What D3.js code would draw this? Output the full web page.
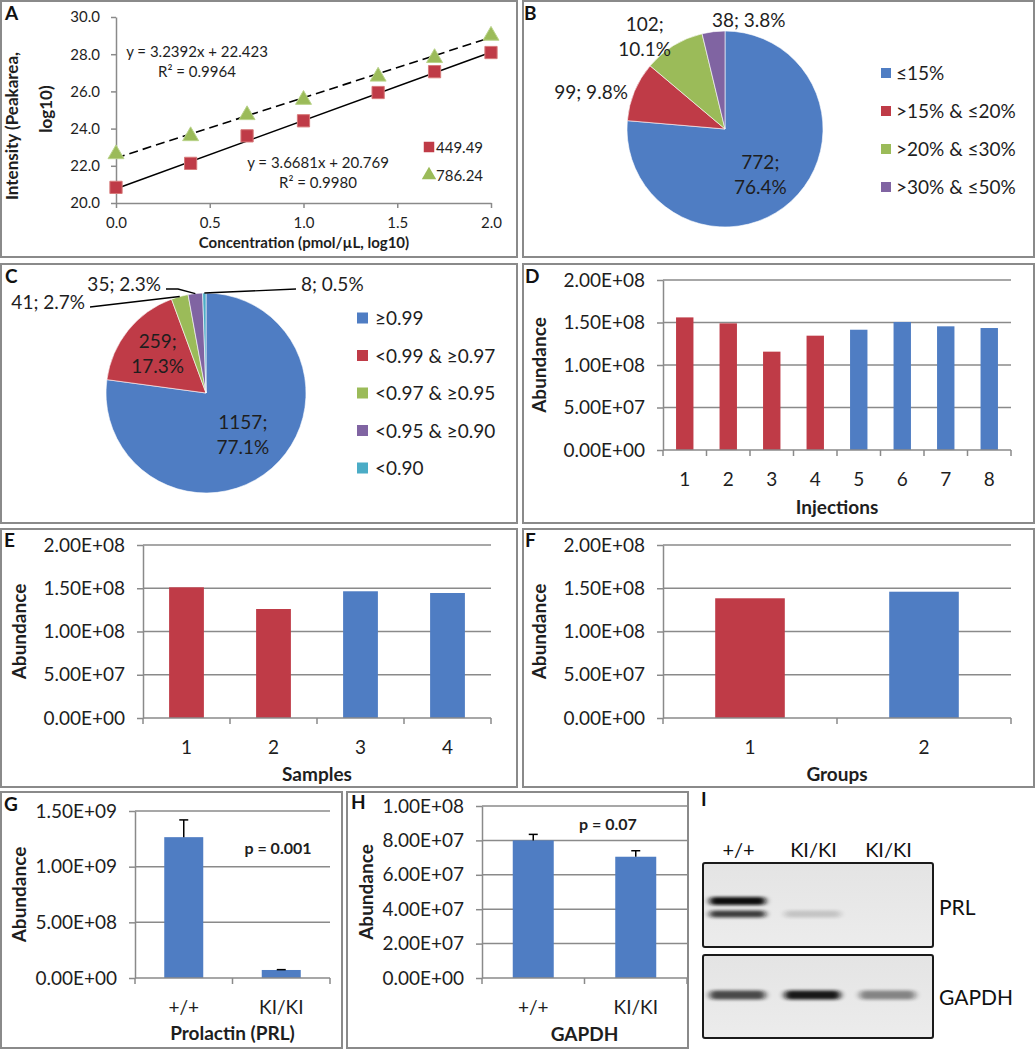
<!DOCTYPE html>
<html><head><meta charset="utf-8">
<script src="https://cdn.jsdelivr.net/npm/d3@7"></script>
<style>body{margin:0;background:#fff;} svg{display:block;} text{font-family:Lato, "Open Sans", sans-serif;}</style>
</head><body><svg id="c" width="1036" height="1050"></svg>
<script>
// ---------------- DATA ----------------
const concA = [0, 0.398, 0.699, 1.0, 1.398, 1.699, 2.0];
const intensity449 = [20.84, 22.13, 23.61, 24.42, 25.94, 27.06, 28.09];
const intensity786 = [22.63, 23.6, 24.73, 25.55, 26.8, 27.8, 29.0];
const seriesNamesA = ["449.49", "786.24"];
const fitSlopeA = [3.6681, 3.2392];
const fitInterceptA = [20.769, 22.423];
const fitR2A = ["0.9980", "0.9964"];
const xTicksA = [0, 0.5, 1, 1.5, 2];
const yTicksA = [20, 22, 24, 26, 28, 30];

const cvCategories = ["≤15%", ">15% & ≤20%", ">20% & ≤30%", ">30% & ≤50%"];
const cvCounts = [772, 99, 102, 38];
const cvPercents = ["76.4%", "9.8%", "10.1%", "3.8%"];

const r2Categories = ["≥0.99", "<0.99 & ≥0.97", "<0.97 & ≥0.95", "<0.95 & ≥0.90", "<0.90"];
const r2Counts = [1157, 259, 41, 35, 8];
const r2Percents = ["77.1%", "17.3%", "2.7%", "2.3%", "0.5%"];

const injections = ["1", "2", "3", "4", "5", "6", "7", "8"];
const injectionAbundance = [1.56e8, 1.49e8, 1.157e8, 1.345e8, 1.415e8, 1.506e8, 1.455e8, 1.435e8];
const injectionGroup = [0, 0, 0, 0, 1, 1, 1, 1];

const samples = ["1", "2", "3", "4"];
const sampleAbundance = [1.511e8, 1.26e8, 1.465e8, 1.445e8];
const sampleGroup = [0, 0, 1, 1];

const groups = ["1", "2"];
const groupAbundance = [1.384e8, 1.46e8];
const groupGroup = [0, 1];

const genotypes = ["+/+", "KI/KI"];
const prlAbundance = [1.265e9, 7.2e7];
const prlError = [1.55e8, 3e6];
const prlP = "p = 0.001";
const gapdhAbundance = [8.0e7, 7.05e7];
const gapdhError = [3.5e6, 3.5e6];
const gapdhP = "p = 0.07";

const abundanceTicks = [0, 5e7, 1e8, 1.5e8, 2e8];
const prlTicks = [0, 5e8, 1e9, 1.5e9];
const gapdhTicks = [0, 2e7, 4e7, 6e7, 8e7, 1e8];

const blotLanes = ["+/+", "KI/KI", "KI/KI"];
const blotTargets = ["PRL", "GAPDH"];
const prlUpperBand = [1.0, 0, 0];
const prlLowerBand = [0.78, 0.16, 0];
const gapdhBand = [0.72, 0.95, 0.45];

// ---------------- STYLE ----------------
const BLUE = "#4F7DC3", RED = "#BF3B47", GREEN = "#9BBB59", PURPLE = "#8064A2", CYAN = "#4BACC6";
const GRAY = "#8a8a8a", TXT = "#1e1e1e";
const pieColorsB = [BLUE, RED, GREEN, PURPLE];
const pieColorsC = [BLUE, RED, GREEN, PURPLE, CYAN];
const barColors = [RED, BLUE];

const svg = d3.select("#c");
svg.append("rect").attr("width", 1036).attr("height", 1050).attr("fill", "#fff");

function frame(x, y, w, h) {
  svg.append("rect").attr("x", x).attr("y", y).attr("width", w).attr("height", h)
    .attr("fill", "none").attr("stroke", GRAY).attr("stroke-width", 2);
}
function letter(t, x, y) {
  svg.append("text").attr("x", x).attr("y", y).attr("font-weight", "bold")
    .attr("font-size", 19).attr("fill", "#111").text(t);
}
function styleAxis(g, fs) {
  g.select(".domain").attr("stroke", GRAY).attr("stroke-width", 1.5);
  g.selectAll(".tick line").attr("stroke", GRAY).attr("stroke-width", 1.5);
  g.selectAll(".tick text").attr("font-size", fs).attr("fill", TXT).attr("font-family", "Lato");
}
function sci(v) {
  if (v === 0) return "0.00E+00";
  const s = d3.format(".2e")(v);
  const [m, e] = s.split("e");
  return m + "E" + e[0] + e.slice(1).padStart(2, "0");
}

// frames
frame(1, 1, 516, 256);
frame(523, 1, 511, 256);
frame(1, 264, 516, 259);
frame(523, 264, 511, 259);
frame(1, 529, 516, 258);
frame(523, 529, 511, 258);
frame(1, 792, 341, 256);
frame(347, 792, 341, 256);

// ---------------- PANEL A ----------------
(function () {
  const x = d3.scaleLinear().domain([0, 2]).range([116, 491]);
  const y = d3.scaleLinear().domain([20, 30]).range([203, 17]);
  const g = svg.append("g");
  const ax = g.append("g").attr("transform", "translate(0,203)")
    .call(d3.axisBottom(x).tickValues(xTicksA).tickFormat(d3.format(".1f")).tickSize(5).tickSizeOuter(0).tickPadding(9));
  styleAxis(ax, 15);
  const ay = g.append("g").attr("transform", "translate(116,0)")
    .call(d3.axisLeft(y).tickValues(yTicksA).tickFormat(d3.format(".1f")).tickSize(5).tickSizeOuter(0).tickPadding(11));
  styleAxis(ay, 15);

  // trend lines
  const dom = x.domain();
  const line = d3.line().x(d => x(d[0])).y(d => y(d[1]));
  [0, 1].forEach(i => {
    g.append("path").attr("d", line(dom.map(v => [v, fitSlopeA[i] * v + fitInterceptA[i]])))
      .attr("stroke", "#000").attr("stroke-width", 1.6).attr("fill", "none")
      .attr("stroke-dasharray", i === 1 ? "9,5" : null);
  });
  // markers
  g.selectAll(".sq").data(concA).join("path")
    .attr("transform", (d, i) => `translate(${x(d)},${y(intensity449[i])})`)
    .attr("d", d3.symbol(d3.symbolSquare, 150)).attr("fill", RED).attr("stroke", "#d77a7a").attr("stroke-width", 1);
  g.selectAll(".tri").data(concA).join("path")
    .attr("transform", (d, i) => `translate(${x(d)},${y(intensity786[i])})`)
    .attr("d", d3.symbol(d3.symbolTriangle, 110)).attr("fill", GREEN).attr("stroke", "#b9d38a").attr("stroke-width", 1);

  // equations
  const eq = (i) => `y = ${fitSlopeA[i]}x + ${fitInterceptA[i]}`;
  const eqPos = [[318, 168], [197, 57]];
  [0, 1].forEach(i => {
    g.append("text").attr("x", eqPos[i][0]).attr("y", eqPos[i][1]).attr("text-anchor", "middle")
      .attr("font-size", 15).attr("fill", TXT).text(eq(i));
    g.append("text").attr("x", eqPos[i][0]).attr("y", eqPos[i][1] + 20).attr("text-anchor", "middle")
      .attr("font-size", 15).attr("fill", TXT).text(`R² = ${fitR2A[i]}`);
  });
  // legend
  g.append("path").attr("transform", "translate(429,147)").attr("d", d3.symbol(d3.symbolSquare, 110)).attr("fill", RED);
  g.append("path").attr("transform", "translate(429,175)").attr("d", d3.symbol(d3.symbolTriangle, 90)).attr("fill", GREEN);
  seriesNamesA.forEach((n, i) => {
    g.append("text").attr("x", 436).attr("y", 153 + i * 28).attr("font-size", 15).attr("fill", TXT).text(n);
  });
  // titles
  g.append("text").attr("x", 304).attr("y", 248).attr("text-anchor", "middle").attr("font-weight", "bold")
    .attr("font-size", 15).attr("fill", TXT).text("Concentration (pmol/µL, log10)");
  g.append("text").attr("transform", "translate(18,126) rotate(-90)").attr("text-anchor", "middle").attr("font-weight", "bold")
    .attr("font-size", 17).attr("fill", TXT).text("Intensity (Peakarea,");
  g.append("text").attr("transform", "translate(52,109) rotate(-90)").attr("text-anchor", "middle").attr("font-weight", "bold")
    .attr("font-size", 17).attr("fill", TXT).text("log10)");
  letter("A", 5, 20);
})();

// ---------------- PANEL B ----------------
(function () {
  const cx = 725, cy = 129, r = 98;
  const arcs = d3.pie().sort(null).value(d => d)(cvCounts);
  const arc = d3.arc().innerRadius(0).outerRadius(r);
  const g = svg.append("g").attr("transform", `translate(${cx},${cy})`);
  g.selectAll("path").data(arcs).join("path").attr("d", arc)
    .attr("fill", (d, i) => pieColorsB[i]).attr("stroke", "#fff").attr("stroke-width", 0.6);
  // label layout: [radius, angle shift (deg), two-line?]
  const lay = [[58, 5, true], [139, -7, false], [122, -9.5, true], [112, 19, false]];
  arcs.forEach((a, i) => {
    const ang = (a.startAngle + a.endAngle) / 2 + lay[i][1] * Math.PI / 180;
    const lx = lay[i][0] * Math.sin(ang), ly = -lay[i][0] * Math.cos(ang);
    const t = g.append("text").attr("text-anchor", "middle").attr("font-size", 19).attr("fill", TXT);
    if (lay[i][2]) {
      t.append("tspan").attr("x", lx).attr("y", ly - 6).text(cvCounts[i] + ";");
      t.append("tspan").attr("x", lx).attr("y", ly + 19).text(cvPercents[i]);
    } else {
      t.attr("x", lx).attr("y", ly + 7).text(`${cvCounts[i]}; ${cvPercents[i]}`);
    }
  });
  const lg = svg.append("g");
  cvCategories.forEach((c, i) => {
    const yy = 73 + i * 38;
    lg.append("rect").attr("x", 881).attr("y", yy - 5).attr("width", 10).attr("height", 10).attr("fill", pieColorsB[i]);
    lg.append("text").attr("x", 896).attr("y", yy + 7).attr("font-size", 19).attr("fill", TXT).text(c);
  });
  letter("B", 524, 20);
})();

// ---------------- PANEL C ----------------
(function () {
  const cx = 206, cy = 393, r = 100;
  const arcs = d3.pie().sort(null).value(d => d)(r2Counts);
  const arc = d3.arc().innerRadius(0).outerRadius(r);
  const g = svg.append("g").attr("transform", `translate(${cx},${cy})`);
  g.selectAll("path").data(arcs).join("path").attr("d", arc)
    .attr("fill", (d, i) => pieColorsC[i]).attr("stroke", "#fff").attr("stroke-width", 0.6);
  const mid = a => (a.startAngle + a.endAngle) / 2;
  // inside labels
  const inLay = [[56, 0], [62, 0]];
  [0, 1].forEach(i => {
    const a = mid(arcs[i]);
    const lx = inLay[i][0] * Math.sin(a) + (i === 0 ? 0 : 0), ly = -inLay[i][0] * Math.cos(a);
    const t = g.append("text").attr("text-anchor", "middle").attr("font-size", 19).attr("fill", TXT);
    t.append("tspan").attr("x", lx).attr("y", ly - 6).text(r2Counts[i] + ";");
    t.append("tspan").attr("x", lx).attr("y", ly + 19).text(r2Percents[i]);
  });
  // outside labels with leader lines: [label anchor dx, dy (relative to centre), text-anchor, elbow]
  const outLay = {2: [-118, -86, "end", null], 3: [-42, -104, "end", [-28, -104]], 4: [92, -104, "start", null]};
  [2, 3, 4].forEach(i => {
    const a = mid(arcs[i]);
    const px = r * Math.sin(a), py = -r * Math.cos(a);
    const L = outLay[i];
    const pts = [[px, py]];
    if (L[3]) pts.push(L[3]);
    pts.push([L[0] + (L[2] === "end" ? 2 : -2), L[1]]);
    g.append("path").attr("d", d3.line()(pts)).attr("stroke", "#000").attr("stroke-width", 1.3).attr("fill", "none");
    g.append("text").attr("x", L[0] + (L[2] === "end" ? -3 : 3)).attr("y", L[1] + 2).attr("text-anchor", L[2])
      .attr("font-size", 19).attr("fill", TXT).text(`${r2Counts[i]}; ${r2Percents[i]}`);
  });
  const lg = svg.append("g");
  r2Categories.forEach((c, i) => {
    const yy = 318 + i * 37.5;
    lg.append("rect").attr("x", 357).attr("y", yy - 5.5).attr("width", 11).attr("height", 11).attr("fill", pieColorsC[i]);
    lg.append("text").attr("x", 375).attr("y", yy + 7).attr("font-size", 19).attr("fill", TXT).text(c);
  });
  letter("C", 5, 283);
})();

// ---------------- BAR PANELS ----------------
function barPanel(o) {
  const n = o.cats.length;
  const x = d3.scaleBand().domain(d3.range(n)).range([o.left, o.right]).paddingInner(0.6).paddingOuter(0.3);
  const y = d3.scaleLinear().domain([0, o.ticks[o.ticks.length - 1]]).range([o.bottom, o.top]);
  const g = svg.append("g");
  g.selectAll(".grid").data(o.ticks.filter(t => t > 0)).join("line")
    .attr("x1", o.left).attr("x2", o.right).attr("y1", d => y(d)).attr("y2", d => y(d))
    .attr("stroke", GRAY).attr("stroke-width", 1.5);
  g.selectAll(".bar").data(o.vals).join("rect")
    .attr("x", (d, i) => x(i)).attr("width", x.bandwidth())
    .attr("y", d => y(d)).attr("height", d => y(0) - y(d))
    .attr("fill", (d, i) => o.colors[i]);
  if (o.err) {
    o.vals.forEach((v, i) => {
      const cxm = x(i) + x.bandwidth() / 2;
      g.append("line").attr("x1", cxm).attr("x2", cxm).attr("y1", y(v)).attr("y2", y(v + o.err[i])).attr("stroke", "#000").attr("stroke-width", 1.5);
      g.append("line").attr("x1", cxm - 4.5).attr("x2", cxm + 4.5).attr("y1", y(v + o.err[i])).attr("y2", y(v + o.err[i])).attr("stroke", "#000").attr("stroke-width", 1.5);
    });
  }
  const ay = g.append("g").attr("transform", `translate(${o.left},0)`)
    .call(d3.axisLeft(y).tickValues(o.ticks).tickFormat(sci).tickSize(6).tickSizeOuter(0).tickPadding(12));
  styleAxis(ay, 19);
  // x axis line + boundary ticks
  g.append("line").attr("x1", o.left).attr("x2", o.right).attr("y1", o.bottom).attr("y2", o.bottom).attr("stroke", GRAY).attr("stroke-width", 1.5);
  g.selectAll(".xt").data(d3.range(n + 1)).join("line")
    .attr("x1", i => o.left + i * x.step()).attr("x2", i => o.left + i * x.step())
    .attr("y1", o.bottom).attr("y2", o.bottom + 6).attr("stroke", GRAY).attr("stroke-width", 1.5);
  g.selectAll(".xl").data(o.cats).join("text")
    .attr("x", (d, i) => x(i) + x.bandwidth() / 2).attr("y", o.bottom + o.labOff)
    .attr("text-anchor", "middle").attr("font-size", 19).attr("fill", TXT).text(d => d);
  g.append("text").attr("x", (o.left + o.right) / 2 + (o.titleDx || 0)).attr("y", o.titleY).attr("text-anchor", "middle")
    .attr("font-weight", "bold").attr("font-size", 19).attr("fill", TXT).text(o.xTitle);
  g.append("text").attr("transform", `translate(${o.yTitleX},${(o.top + o.bottom) / 2}) rotate(-90)`)
    .attr("text-anchor", "middle").attr("font-weight", "bold").attr("font-size", 19).attr("fill", TXT).text("Abundance");
  if (o.p) {
    g.append("text").attr("x", o.p[1]).attr("y", o.p[2]).attr("text-anchor", "middle")
      .attr("font-weight", "bold").attr("font-size", 16).attr("fill", TXT).text(o.p[0]);
  }
}

barPanel({cats: injections, vals: injectionAbundance, colors: injectionGroup.map(g => barColors[g]),
  ticks: abundanceTicks, left: 663, right: 1011, top: 280, bottom: 450, labOff: 36, titleY: 514,
  xTitle: "Injections", yTitleX: 546});
letter("D", 525, 283);

barPanel({cats: samples, vals: sampleAbundance, colors: sampleGroup.map(g => barColors[g]),
  ticks: abundanceTicks, left: 143, right: 491, top: 545, bottom: 718, labOff: 36, titleY: 781,
  xTitle: "Samples", yTitleX: 26});
letter("E", 4, 547);

barPanel({cats: groups, vals: groupAbundance, colors: groupGroup.map(g => barColors[g]),
  ticks: abundanceTicks, left: 663, right: 1011, top: 545, bottom: 718, labOff: 36, titleY: 781,
  xTitle: "Groups", yTitleX: 546});
letter("F", 525, 547);

barPanel({cats: genotypes, vals: prlAbundance, colors: [BLUE, BLUE], err: prlError,
  ticks: prlTicks, left: 135, right: 330, top: 811, bottom: 978, labOff: 36, titleY: 1040,
  xTitle: "Prolactin (PRL)", yTitleX: 26, p: [prlP, 278, 854]});
letter("G", 4, 811);

barPanel({cats: genotypes, vals: gapdhAbundance, colors: [BLUE, BLUE], err: gapdhError,
  ticks: gapdhTicks, left: 482, right: 687, top: 806, bottom: 978, labOff: 36, titleY: 1041,
  xTitle: "GAPDH", yTitleX: 373, p: [gapdhP, 608, 830]});
letter("H", 351, 809);

// ---------------- PANEL I (blot) ----------------
(function () {
  const defs = svg.append("defs");
  defs.append("filter").attr("id", "blur").attr("x", "-30%").attr("y", "-100%").attr("width", "160%").attr("height", "300%")
    .append("feGaussianBlur").attr("stdDeviation", "3 1.8");
  const lg = defs.append("linearGradient").attr("id", "mem").attr("x1", 0).attr("y1", 0).attr("x2", 0).attr("y2", 1);
  lg.append("stop").attr("offset", 0).attr("stop-color", "#e4e4e4");
  lg.append("stop").attr("offset", 1).attr("stop-color", "#ececec");

  const lane = d3.scaleBand().domain(d3.range(blotLanes.length)).range([700, 925]);
  const boxes = [[863, 947], [955, 1038]];
  const g = svg.append("g");
  boxes.forEach(b => {
    g.append("rect").attr("x", 703).attr("y", b[0]).attr("width", 230).attr("height", b[1] - b[0])
      .attr("fill", "url(#mem)").attr("stroke", "#1a1a1a").attr("stroke-width", 2).attr("rx", 2);
  });
  const band = (i, yc, h, w, op) => {
    if (op <= 0) return;
    g.append("rect").attr("x", lane(i) + lane.bandwidth() / 2 - w / 2).attr("y", yc - h / 2)
      .attr("width", w).attr("height", h).attr("rx", h / 2)
      .attr("fill", "#111").attr("opacity", op).attr("filter", "url(#blur)");
  };
  prlUpperBand.forEach((v, i) => band(i, 901, 8, 56, v));
  prlLowerBand.forEach((v, i) => band(i, 914, 7, 56, v));
  gapdhBand.forEach((v, i) => band(i, 995, 9, 56, v));

  blotLanes.forEach((l, i) => {
    g.append("text").attr("x", lane(i) + lane.bandwidth() / 2 + 1).attr("y", 857).attr("text-anchor", "middle")
      .attr("font-family", "Liberation Sans, Arial").attr("font-size", 20).attr("fill", "#111").text(l);
  });
  const ty = [915, 1005];
  blotTargets.forEach((t, i) => {
    g.append("text").attr("x", 939).attr("y", ty[i]).attr("font-family", "Liberation Sans, Arial")
      .attr("font-size", 21).attr("fill", "#111").text(t);
  });
  letter("I", 701, 806);
})();
</script>
</body></html>
